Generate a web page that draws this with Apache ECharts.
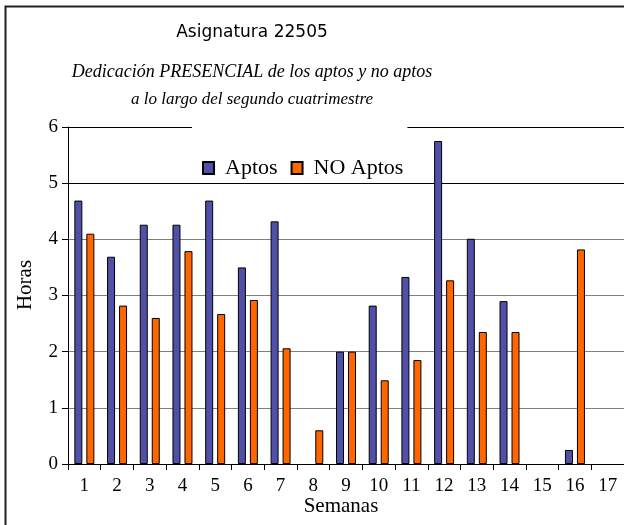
<!DOCTYPE html>
<html>
<head>
<meta charset="utf-8">
<script src="https://cdn.jsdelivr.net/npm/echarts@6/dist/echarts.min.js"></script>
<style>html,body{margin:0;padding:0;background:#fff}#c{width:624px;height:525px}</style>
</head>
<body>
<div id="c"></div>
<script>
var semanas = ['1','2','3','4','5','6','7','8','9','10','11','12','13','14','15','16','17'];
var aptos   = [4.69, 3.69, 4.26, 4.26, 4.69, 3.50, 4.32, 0, 2.00, 2.82, 3.33, 5.75, 4.01, 2.90, 0, 0.25, 0];
var noAptos = [4.10, 2.82, 2.60, 3.79, 2.67, 2.92, 2.06, 0.60, 2.00, 1.49, 1.85, 3.27, 2.35, 2.35, 0, 3.82, 0];
var yTicks = [0, 1, 2, 3, 4, 5, 6];

function barData(arr) {
  return arr.map(function (v) {
    return v === 0 ? {value: 0, itemStyle: {borderWidth: 0, opacity: 0}} : v;
  });
}

var chart = echarts.init(document.getElementById('c'), null, {renderer: 'canvas'});
var serif = 'Liberation Serif';
chart.setOption({
  backgroundColor: '#ffffff',
  animation: false,
  grid: {left: 68, top: 127, right: -6, bottom: 61, containLabel: false},
  legend: {
    data: ['Aptos', 'NO Aptos'],
    left: 192, top: 125,
    padding: [32, 4, 4, 10],
    backgroundColor: '#ffffff',
    itemWidth: 11, itemHeight: 12, itemGap: 13,
    icon: 'rect',
    textStyle: {fontFamily: serif, fontSize: 22, color: '#000', padding: [0, 0, 0, 6]}
  },
  xAxis: {
    type: 'category',
    data: semanas,
    axisLine: {lineStyle: {color: '#000', width: 1}},
    axisTick: {show: true, length: 6, lineStyle: {color: '#000'}},
    axisLabel: {fontFamily: serif, fontSize: 19, color: '#000', margin: 13, interval: 0}
  },
  yAxis: {
    type: 'value',
    min: yTicks[0], max: yTicks[yTicks.length - 1], interval: 1,
    axisLine: {show: true, lineStyle: {color: '#000', width: 1}},
    axisTick: {show: true, length: 6, lineStyle: {color: '#000'}},
    axisLabel: {fontFamily: serif, fontSize: 19, color: '#000', margin: 10},
    splitLine: {show: true, lineStyle: {color: ['#000', '#808080', '#808080', '#808080', '#808080', '#000', '#000'], width: 1}}
  },
  series: [
    {name: 'Aptos', type: 'bar', data: barData(aptos), barWidth: 8, barGap: '50%',
     itemStyle: {color: '#5050a8', borderColor: '#000', borderWidth: 1}},
    {name: 'NO Aptos', type: 'bar', data: barData(noAptos), barWidth: 8,
     itemStyle: {color: '#ff6600', borderColor: '#000', borderWidth: 1}}
  ],
  graphic: [
    {type: 'rect', z: 100, silent: true, shape: {x: 5.5, y: 6.5, width: 700, height: 600},
     style: {fill: null, stroke: '#222', lineWidth: 2}},
    {type: 'text', x: 252, y: 33, style: {text: 'Asignatura 22505', font: 'normal 17px "DejaVu Sans"', fill: '#000', textAlign: 'center', textVerticalAlign: 'middle'}},
    {type: 'text', x: 252, y: 72, style: {text: 'Dedicación PRESENCIAL de los aptos y no aptos', font: 'italic 18px "Liberation Serif"', fill: '#000', textAlign: 'center', textVerticalAlign: 'middle'}},
    {type: 'text', x: 252, y: 100, style: {text: 'a lo largo del segundo cuatrimestre', font: 'italic 17px "Liberation Serif"', fill: '#000', textAlign: 'center', textVerticalAlign: 'middle'}},
    {type: 'text', x: 341, y: 506, style: {text: 'Semanas', font: 'normal 21px "Liberation Serif"', fill: '#000', textAlign: 'center', textVerticalAlign: 'middle'}},
    {type: 'text', x: 25, y: 285, rotation: Math.PI / 2, style: {text: 'Horas', font: 'normal 21px "Liberation Serif"', fill: '#000', textAlign: 'center', textVerticalAlign: 'middle'}}
  ]
});
</script>
</body>
</html>
